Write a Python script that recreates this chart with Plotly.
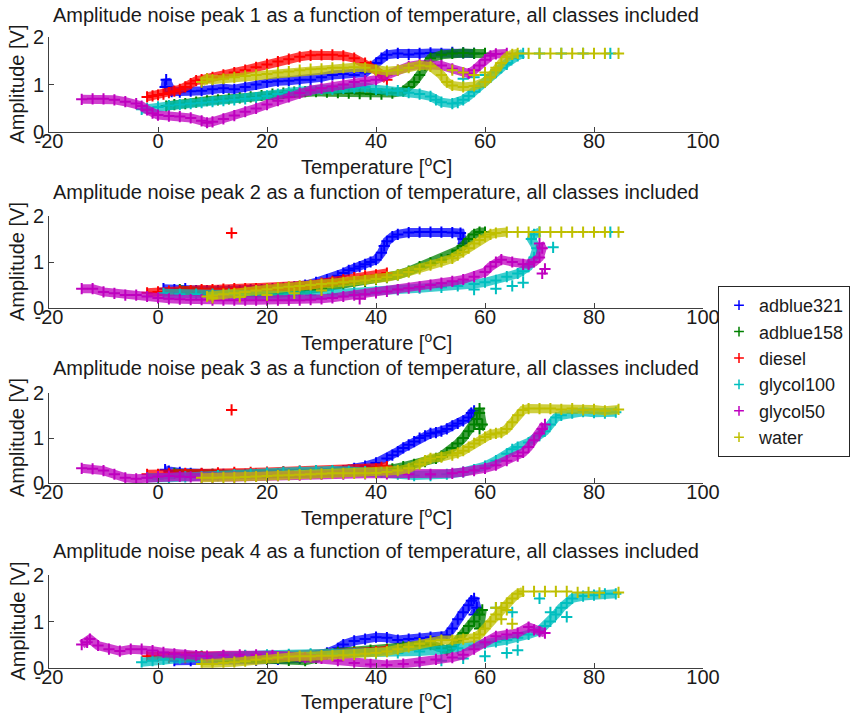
import plotly.graph_objects as go

CLASSES = ["adblue321", "adblue158", "diesel", "glycol100", "glycol50", "water"]
COLORS = ["#0000ff", "#008000", "#ff0000", "#00bfbf", "#bf00bf", "#bfbf00"]
BAND_COLORS = ["rgba(0,0,255,0.75)", "rgba(0,128,0,0.75)", "rgba(255,0,0,0.75)",
               "rgba(0,191,191,0.75)", "rgba(191,0,191,0.75)", "rgba(191,191,0,0.75)"]
X_TICKS = [-20, 0, 20, 40, 60, 80, 100]
X_TICK_LABELS = ["-20", "0", "20", "40", "60", "80", "100"]
Y_TICKS = [0, 1, 2]
TITLES = ["Amplitude noise peak %d as a function of temperature, all classes included" % k for k in (1, 2, 3, 4)]

# ---------------- Peak 1 ----------------
P1_ADBLUE321 = [(1.3,0.95),(1.5,1.1),(2.5,0.85),(4,0.84),(6,0.86),(8,0.87),(10,0.9),(12,0.92),(14,0.9),(16,0.95),(18,1.0),(20,1.05),(22,1.07),(24,1.08),(26,1.1),(28,1.1),(30,1.15),(32,1.2),(34,1.22),(36,1.2),(38,1.25),(39,1.35),(40,1.45),(41,1.55),(42,1.62),(44,1.65),(46,1.63),(48,1.65),(50,1.66),(52,1.65),(54,1.67),(56,1.66),(58,1.65)]
P1_ADBLUE158 = [(1.5,0.55),(3,0.58),(5,0.6),(7,0.63),(9,0.66),(11,0.68),(13,0.7),(15,0.72),(17,0.74),(19,0.77),(21,0.8),(23,0.82),(25,0.84),(27,0.85),(29,0.85),(31,0.84),(33,0.83),(35,0.82),(37,0.81),(39,0.8),(41,0.8),(43,0.82),(45,0.86),(46,0.95),(47,1.05),(48,1.2),(49,1.4),(50,1.55),(52,1.62),(54,1.65),(56,1.66),(58,1.65),(60,1.65)]
P1_DIESEL = [(-2,0.74),(-1,0.76),(0,0.78),(1,0.8),(2,0.83),(3,0.86),(4,0.9),(5,0.95),(6,1.02),(7,1.08),(8,1.1),(9,1.12),(10,1.15),(12,1.2),(14,1.25),(16,1.3),(18,1.36),(20,1.42),(22,1.48),(24,1.53),(26,1.58),(28,1.61),(30,1.62),(32,1.62),(34,1.6),(36,1.55),(38,1.45),(39,1.38),(40,1.3),(41,1.2),(42,1.1)]
P1_GLYCOL100 = [(-3,0.48),(-2,0.5),(0,0.53),(2,0.56),(4,0.58),(6,0.6),(8,0.62),(10,0.64),(12,0.66),(14,0.68),(16,0.7),(18,0.72),(20,0.76),(22,0.8),(24,0.84),(26,0.87),(28,0.88),(30,0.9),(32,0.9),(34,0.92),(36,0.93),(38,0.95),(40,0.9),(42,0.88),(44,0.87),(46,0.83),(48,0.8),(50,0.75),(51,0.68),(52,0.63),(54,0.6),(55,0.62),(56,0.68),(57,0.76),(58,0.85),(59,0.95),(60,1.05),(61,1.15),(62,1.25),(63,1.35),(64,1.45),(65,1.55),(66,1.6),(67,1.65)]
P1_GLYCOL50 = [(-14,0.69),(-12,0.7),(-10,0.7),(-8,0.68),(-6,0.64),(-4,0.6),(-3,0.55),(-2,0.47),(-1,0.4),(0,0.36),(2,0.34),(4,0.33),(6,0.3),(8,0.24),(9,0.2),(10,0.22),(12,0.28),(14,0.35),(16,0.43),(18,0.5),(20,0.58),(22,0.66),(24,0.74),(26,0.82),(28,0.88),(30,0.92),(32,0.96),(34,1.0),(36,1.05),(38,1.08),(40,1.1),(42,1.2),(44,1.3),(46,1.38),(48,1.42),(50,1.42),(52,1.4),(54,1.33),(56,1.25),(57,1.23),(58,1.3),(59,1.4),(60,1.52),(61,1.6),(62,1.64),(64,1.65)]
P1_WATER = [(8,1.05),(9,1.12),(10,1.1),(12,1.12),(14,1.15),(16,1.18),(18,1.2),(20,1.22),(22,1.25),(24,1.27),(26,1.3),(28,1.32),(30,1.33),(32,1.35),(34,1.35),(36,1.36),(38,1.35),(40,1.3),(42,1.28),(44,1.3),(46,1.35),(48,1.4),(50,1.38),(52,1.2),(53,1.05),(54,0.98),(56,0.95),(58,0.97),(60,1.05),(61,1.15),(62,1.3),(63,1.45),(64,1.58),(65,1.63),(66,1.65)]
P1_EXTRA_GLYCOL100 = [(56,1.12),(58,1.15),(60,1.2),(62,1.3),(64,1.42),(70,1.65),(74,1.65),(78,1.65),(83,1.65)]
P1_EXTRA_WATER = [(54,1.3),(56,1.25),(58,1.2),(60,1.25),(62,1.35),(68,1.65),(70,1.65),(72,1.65),(74,1.65),(76,1.65),(78,1.65),(80,1.65),(82,1.65),(84.5,1.65)]

# ---------------- Peak 2 ----------------
P2_ADBLUE321 = [(1,0.42),(3,0.4),(5,0.42),(7,0.38),(9,0.38),(11,0.38),(13,0.38),(15,0.38),(17,0.4),(19,0.4),(21,0.42),(23,0.44),(25,0.46),(27,0.5),(29,0.56),(31,0.62),(33,0.7),(34,0.76),(35,0.82),(36,0.86),(37,0.9),(38,0.95),(39,1.0),(40,1.05),(41,1.2),(41.5,1.35),(42,1.45),(43,1.55),(44,1.6),(46,1.64),(48,1.65),(50,1.65),(52,1.65),(54,1.64),(55.5,1.63),(56,1.5),(56,1.4)]
P2_ADBLUE158 = [(4,0.4),(6,0.36),(8,0.34),(10,0.35),(12,0.34),(14,0.33),(16,0.32),(18,0.31),(20,0.3),(22,0.32),(24,0.34),(26,0.36),(28,0.4),(30,0.44),(32,0.48),(34,0.52),(36,0.55),(38,0.58),(40,0.62),(42,0.66),(44,0.72),(46,0.8),(48,0.9),(50,0.98),(52,1.05),(54,1.15),(55,1.25),(56,1.35),(57,1.5),(58,1.6),(59,1.65),(60,1.65)]
P2_DIESEL = [(-2,0.33),(0,0.35),(2,0.37),(4,0.38),(6,0.38),(8,0.4),(10,0.4),(12,0.41),(14,0.42),(16,0.42),(18,0.42),(20,0.42),(22,0.43),(24,0.45),(26,0.47),(28,0.5),(30,0.54),(32,0.58),(34,0.62),(36,0.66),(38,0.7),(40,0.72),(42,0.76)]
P2_GLYCOL100 = [(1,0.32),(4,0.3),(7,0.3),(10,0.3),(13,0.3),(16,0.28),(20,0.27),(24,0.27),(28,0.28),(32,0.3),(36,0.33),(40,0.36),(44,0.4),(48,0.43),(52,0.45),(55,0.48),(58,0.52),(60,0.56),(62,0.6),(64,0.68),(66,0.75),(67,0.8),(68,0.9),(69,1.1),(69.5,1.3),(68.5,1.5),(69,1.6),(70,1.65)]
P2_GLYCOL50 = [(-14,0.42),(-12,0.42),(-10,0.35),(-8,0.32),(-6,0.28),(-4,0.28),(-2,0.25),(0,0.22),(2,0.2),(4,0.19),(6,0.18),(8,0.18),(10,0.17),(12,0.17),(14,0.17),(16,0.17),(18,0.17),(20,0.17),(22,0.17),(24,0.17),(26,0.17),(28,0.18),(30,0.2),(32,0.22),(34,0.25),(36,0.28),(38,0.3),(40,0.33),(42,0.36),(44,0.4),(46,0.43),(48,0.46),(50,0.5),(52,0.54),(54,0.58),(56,0.62),(58,0.68),(60,0.78),(61,0.9),(62,1.0),(63,1.05),(65,1.0),(67,0.95),(68,0.95),(69,1.0),(70,1.1),(70.5,1.3),(70,1.4)]
P2_WATER = [(9,0.25),(10,0.27),(12,0.3),(14,0.32),(16,0.35),(18,0.38),(20,0.41),(22,0.44),(24,0.46),(26,0.48),(28,0.5),(30,0.52),(32,0.54),(34,0.56),(36,0.58),(38,0.6),(40,0.63),(42,0.67),(44,0.72),(46,0.78),(48,0.85),(50,0.93),(52,1.0),(54,1.08),(55,1.15),(56,1.22),(57,1.3),(58,1.4),(59,1.48),(60,1.55),(61,1.6),(62,1.63),(64,1.65)]
P2_EXTRA_DIESEL = [(13.5,1.63)]
P2_EXTRA_GLYCOL100 = [(58,0.4),(62,0.42),(65,0.48),(67,0.55),(72.5,1.32),(83,1.65)]
P2_EXTRA_GLYCOL50 = [(70.5,0.75),(71,0.85),(37,0.2)]
P2_EXTRA_WATER = [(10,0.22),(15,0.24),(20,0.28),(25,0.32),(30,0.38),(66,1.65),(68,1.65),(70,1.65),(72,1.65),(74,1.65),(76,1.65),(78,1.65),(80,1.65),(82,1.65),(84.5,1.65)]

# ---------------- Peak 3 ----------------
P3_ADBLUE321 = [(1.3,0.3),(2,0.27),(4,0.24),(6,0.22),(8,0.21),(10,0.2),(12,0.2),(14,0.2),(16,0.2),(18,0.2),(20,0.2),(22,0.21),(24,0.21),(26,0.22),(28,0.22),(30,0.23),(32,0.25),(34,0.28),(36,0.33),(38,0.38),(40,0.45),(42,0.55),(43,0.62),(44,0.7),(45,0.78),(46,0.85),(47,0.92),(48,1.0),(49,1.05),(50,1.1),(51,1.12),(52,1.15),(53,1.2),(54,1.27),(55,1.32),(56,1.38),(57,1.45),(57.5,1.55),(58,1.6)]
P3_ADBLUE158 = [(3,0.22),(6,0.2),(10,0.2),(14,0.2),(18,0.2),(22,0.21),(26,0.22),(30,0.23),(34,0.24),(38,0.26),(41,0.28),(43,0.32),(45,0.37),(47,0.42),(49,0.48),(51,0.55),(52,0.6),(53,0.68),(54,0.78),(55,0.88),(56,1.0),(57,1.15),(58,1.3),(58.5,1.42),(59,1.55),(59,1.65),(59.5,1.3),(59,1.2)]
P3_DIESEL = [(-2,0.2),(0,0.2),(2,0.22),(5,0.22),(8,0.22),(11,0.23),(14,0.24),(17,0.24),(20,0.25),(23,0.26),(26,0.27),(29,0.28),(32,0.28),(35,0.29),(38,0.3),(40,0.32),(41,0.35),(42,0.37)]
P3_GLYCOL100 = [(-2,0.12),(0,0.1),(2,0.12),(5,0.14),(8,0.15),(11,0.17),(14,0.19),(17,0.21),(20,0.23),(23,0.25),(26,0.27),(29,0.28),(32,0.28),(35,0.27),(38,0.26),(41,0.24),(44,0.2),(47,0.17),(50,0.17),(53,0.2),(56,0.25),(58,0.3),(60,0.38),(62,0.5),(64,0.65),(65,0.75),(66,0.8),(68,0.9),(70,1.05),(71,1.15),(72,1.3),(73,1.45),(74,1.5),(76,1.55),(78,1.58),(80,1.56),(82,1.55),(84,1.57)]
P3_GLYCOL50 = [(-14,0.33),(-12,0.32),(-10,0.28),(-8,0.2),(-6,0.12),(-4,0.1),(-2,0.12),(0,0.15),(2,0.16),(4,0.15),(6,0.14),(8,0.13),(10,0.13),(14,0.14),(18,0.15),(22,0.17),(26,0.18),(30,0.2),(34,0.2),(38,0.21),(42,0.21),(46,0.2),(50,0.2),(54,0.22),(56,0.25),(58,0.28),(60,0.33),(62,0.4),(64,0.5),(66,0.6),(67,0.68),(68,0.8),(69,0.95),(70,1.1),(70.5,1.2),(71,1.3)]
P3_WATER = [(8,0.12),(10,0.12),(12,0.13),(14,0.13),(16,0.14),(18,0.15),(20,0.16),(22,0.17),(24,0.18),(26,0.19),(28,0.2),(30,0.21),(32,0.22),(34,0.22),(36,0.22),(38,0.22),(40,0.23),(42,0.25),(44,0.28),(46,0.33),(48,0.42),(49,0.5),(50,0.55),(52,0.58),(54,0.62),(55,0.67),(56,0.72),(57,0.8),(58,0.88),(59,0.95),(60,1.02),(61,1.08),(62,1.1),(63,1.12),(64,1.2),(65,1.35),(66,1.5),(67,1.62),(68,1.65),(70,1.65),(72,1.65),(74,1.63),(76,1.65),(78,1.62),(80,1.63),(82,1.6),(84.5,1.63)]
P3_EXTRA_DIESEL = [(13.5,1.62)]

# ---------------- Peak 4 ----------------
P4_ADBLUE321 = [(3,0.15),(6,0.15),(10,0.15),(14,0.15),(18,0.16),(22,0.18),(26,0.2),(29,0.25),(31,0.32),(33,0.42),(34,0.5),(36,0.58),(38,0.62),(40,0.66),(42,0.65),(44,0.6),(46,0.62),(48,0.64),(50,0.66),(52,0.66),(53,0.7),(54,0.85),(55,1.05),(56,1.2),(57,1.35),(57.5,1.45),(58,1.5),(58.5,1.3),(58,1.15)]
P4_ADBLUE158 = [(5,0.25),(8,0.25),(12,0.22),(16,0.2),(20,0.18),(24,0.16),(27,0.15),(29,0.2),(31,0.3),(33,0.33),(36,0.35),(39,0.38),(42,0.4),(45,0.45),(48,0.48),(50,0.5),(52,0.42),(53,0.38),(54,0.45),(55,0.6),(56,0.75),(57,0.9),(58,1.0),(59,1.15),(59.5,1.25),(59,0.85)]
P4_DIESEL = [(-2,0.25),(0,0.25),(2,0.22),(5,0.22),(8,0.24),(12,0.25),(16,0.26),(20,0.26),(24,0.27),(28,0.28),(32,0.3),(36,0.32),(40,0.35),(42,0.38)]
P4_GLYCOL100 = [(-3,0.12),(-1,0.15),(1,0.18),(4,0.2),(8,0.22),(12,0.25),(16,0.27),(20,0.28),(24,0.29),(28,0.3),(32,0.3),(36,0.3),(40,0.3),(44,0.32),(48,0.35),(52,0.38),(55,0.42),(58,0.48),(60,0.52),(62,0.56),(64,0.6),(66,0.65),(68,0.72),(70,0.8),(71,0.9),(72,1.0),(73,1.15),(74,1.3),(75,1.4),(76,1.5),(78,1.55),(80,1.57),(82,1.6),(84,1.6)]
P4_GLYCOL50 = [(-14,0.5),(-13,0.55),(-12.5,0.62),(-11,0.48),(-9,0.4),(-7,0.36),(-5,0.4),(-3,0.4),(-1,0.37),(1,0.33),(3,0.3),(5,0.28),(7,0.26),(9,0.25),(12,0.27),(15,0.28),(18,0.28),(21,0.27),(24,0.25),(27,0.22),(30,0.2),(33,0.15),(36,0.1),(39,0.07),(42,0.06),(45,0.08),(48,0.12),(51,0.18),(54,0.22),(56,0.28),(58,0.4),(60,0.55),(62,0.68),(64,0.72),(66,0.75),(68,0.88),(69,0.82),(70,0.78),(71,0.75)]
P4_WATER = [(8,0.08),(10,0.08),(12,0.1),(14,0.12),(16,0.14),(18,0.17),(20,0.2),(22,0.22),(24,0.24),(26,0.25),(28,0.25),(30,0.26),(32,0.26),(34,0.27),(36,0.28),(38,0.3),(40,0.32),(42,0.35),(44,0.4),(46,0.45),(48,0.52),(50,0.58),(52,0.6),(54,0.6),(56,0.62),(58,0.65),(59,0.72),(60,0.85),(61,1.0),(62,1.15),(63,1.3),(64,1.4),(65,1.5),(66,1.6),(67,1.65)]
P4_EXTRA_GLYCOL100 = [(48,0.12),(52,0.15),(56,0.2),(60,0.25),(64,0.32),(66,0.38),(62,1.3),(65,1.2),(70,1.5),(72,1.2),(75,1.1)]
P4_EXTRA_WATER = [(69,1.65),(71,1.65),(73,1.65),(75,1.65),(77,1.63),(79,1.63),(81,1.62),(84.5,1.63),(62,1.3),(63,1.05),(64,1.25),(65,0.95)]

BANDS = [
    [P1_ADBLUE321, P1_ADBLUE158, P1_DIESEL, P1_GLYCOL100, P1_GLYCOL50, P1_WATER],
    [P2_ADBLUE321, P2_ADBLUE158, P2_DIESEL, P2_GLYCOL100, P2_GLYCOL50, P2_WATER],
    [P3_ADBLUE321, P3_ADBLUE158, P3_DIESEL, P3_GLYCOL100, P3_GLYCOL50, P3_WATER],
    [P4_ADBLUE321, P4_ADBLUE158, P4_DIESEL, P4_GLYCOL100, P4_GLYCOL50, P4_WATER],
]
EXTRAS = [
    [[], [], [], P1_EXTRA_GLYCOL100, [], P1_EXTRA_WATER],
    [[], [], P2_EXTRA_DIESEL, P2_EXTRA_GLYCOL100, P2_EXTRA_GLYCOL50, P2_EXTRA_WATER],
    [[], [], P3_EXTRA_DIESEL, [], [], []],
    [[], [], [], P4_EXTRA_GLYCOL100, [], P4_EXTRA_WATER],
]

W, H = 852, 716
FONT = "Liberation Sans, Arial, sans-serif"
AX_LEFT, AX_RIGHT = 49, 703
AX_TB = [(36.7, 132.3), (216, 308), (392.7, 483.3), (575.3, 667.7)]
TITLE_Y = [15, 192, 368, 551]

def py(px):
    return 1 - px / H

fig = go.Figure()
for p in range(4):
    xa = "x" if p == 0 else "x%d" % (p + 1)
    ya = "y" if p == 0 else "y%d" % (p + 1)
    for c, cls in enumerate(CLASSES):
        band = BANDS[p][c]
        bx = [t for t, a in band]
        by = [a for t, a in band]
        fig.add_trace(go.Scatter(x=bx, y=by, xaxis=xa, yaxis=ya, mode="lines", showlegend=False,
                                 hoverinfo="skip", line=dict(color=BAND_COLORS[c], width=9)))
        fig.add_trace(go.Scatter(x=bx, y=by, xaxis=xa, yaxis=ya, mode="markers", showlegend=False,
                                 hoverinfo="skip",
                                 marker=dict(color=COLORS[c], line=dict(color=COLORS[c], width=2),
                                             symbol="cross-thin", size=8)))
        extra = EXTRAS[p][c]
        if extra:
            fig.add_trace(go.Scatter(
                x=[t for t, a in extra], y=[a for t, a in extra], xaxis=xa, yaxis=ya,
                mode="markers", showlegend=False, hoverinfo="skip",
                marker=dict(color=COLORS[c], line=dict(color=COLORS[c], width=2), symbol="cross-thin", size=8)))

for c, cls in enumerate(CLASSES):
    fig.add_trace(go.Scatter(x=[None], y=[None], mode="markers", name=cls,
                             marker=dict(symbol="cross-thin", size=7, color=COLORS[c],
                                         line=dict(color=COLORS[c], width=1.5))))

layout = dict(width=W, height=H, margin=dict(l=0, r=0, t=0, b=0, autoexpand=False),
              paper_bgcolor="white", plot_bgcolor="white",
              font=dict(family=FONT, size=20, color="#1a1a1a"),
              showlegend=True,
              legend=dict(x=718 / W, y=py(286), xanchor="left", yanchor="top",
                          bordercolor="#262626", borderwidth=1, bgcolor="white",
                          font=dict(family=FONT, size=18, color="#1a1a1a"),
                          tracegroupgap=0))
annotations = []
for p in range(4):
    top, bot = AX_TB[p]
    suffix = "" if p == 0 else str(p + 1)
    common = dict(showline=True, linecolor="#404040", linewidth=1, ticks="inside", ticklen=5,
                  tickcolor="#404040", showgrid=False, zeroline=False, tickfont=dict(size=20),
                  automargin=False)
    layout["xaxis" + suffix] = dict(domain=[AX_LEFT / W, AX_RIGHT / W], range=[-20, 100], tickvals=X_TICKS,
                                    ticktext=X_TICK_LABELS, anchor="y" + suffix, ticklabelstandoff=-9, **common)
    layout["yaxis" + suffix] = dict(domain=[py(bot), py(top)], range=[0, 2], tickvals=Y_TICKS,
                                    anchor="x" + suffix, **common)
    annotations.append(dict(text=TITLES[p], x=(AX_LEFT + AX_RIGHT) / 2 / W, y=py(TITLE_Y[p]),
                            xref="paper", yref="paper", xanchor="center", yanchor="middle",
                            showarrow=False, font=dict(size=20)))
    annotations.append(dict(text="Temperature [<sup>o</sup>C]", x=(AX_LEFT + AX_RIGHT) / 2 / W, y=py(bot + 33),
                            xref="paper", yref="paper", xanchor="center", yanchor="middle",
                            showarrow=False, font=dict(size=20)))
    annotations.append(dict(text="Amplitude [V]", x=17 / W, y=py((top + bot) / 2), textangle=-90,
                            xref="paper", yref="paper", xanchor="center", yanchor="middle",
                            showarrow=False, font=dict(size=20)))
layout["annotations"] = annotations
fig.update_layout(**layout)
fig.write_html("out.html")
